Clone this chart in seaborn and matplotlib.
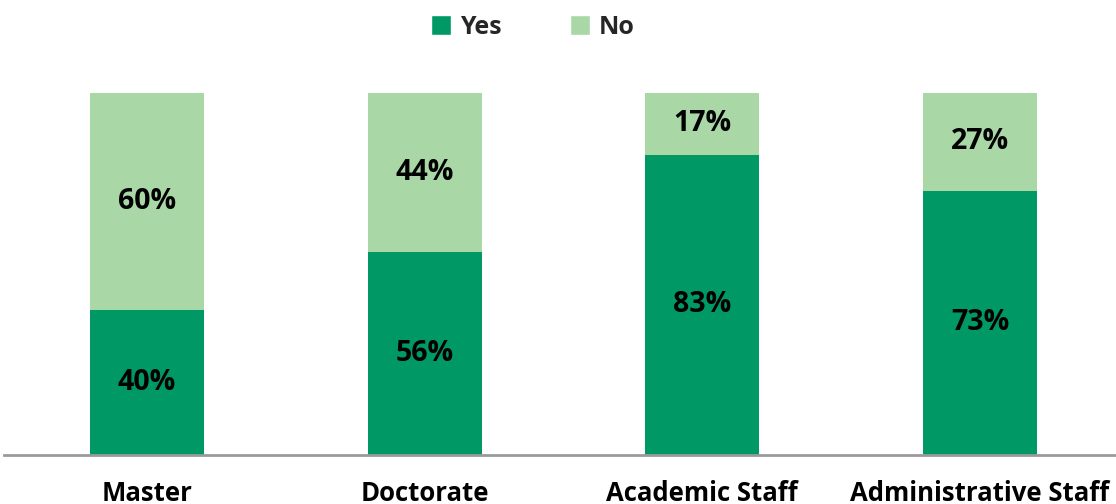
import matplotlib
matplotlib.use("Agg")
import matplotlib.pyplot as plt
from matplotlib.patches import Patch
import seaborn as sns
import pandas as pd

categories = ["Master", "Doctorate", "Academic Staff", "Administrative Staff"]
yes_pct = [40, 56, 83, 73]
no_pct = [60, 44, 17, 27]

YES_COLOR = "#009966"
NO_COLOR = "#A9D8A6"
FONT = ["Open Sans", "DejaVu Sans"]

sns.set_theme(style="white")
plt.rcParams["font.family"] = FONT

df = pd.DataFrame({
    "group": categories,
    "yes": yes_pct,
    "no": no_pct,
})
df["total"] = df["yes"] + df["no"]

fig = plt.figure(figsize=(11.16, 5.04), dpi=100)
ax = fig.add_axes([0.0036, 0.0972, 0.9964, 0.718])

# Full-height light bars first, then the "Yes" share drawn over them
sns.barplot(data=df, x="group", y="total", color=NO_COLOR, width=0.41,
            saturation=1, linewidth=0, ax=ax)
sns.barplot(data=df, x="group", y="yes", color=YES_COLOR, width=0.41,
            saturation=1, linewidth=0, ax=ax)

for i, (y, n) in enumerate(zip(yes_pct, no_pct)):
    ax.text(i, y / 2, f"{y}%", ha="center", va="center",
            fontsize=20.5, fontweight="bold", color="black")
    ax.text(i, y + n / 2, f"{n}%", ha="center", va="center",
            fontsize=20.5, fontweight="bold", color="black")

ax.set_xlim(-0.515, 3.49)
ax.set_ylim(0, 100)
ax.set_xlabel("")
ax.set_ylabel("")
ax.set_yticks([])
ax.tick_params(axis="x", length=0, pad=18)
for lbl in ax.get_xticklabels():
    lbl.set_fontsize(18.5)
    lbl.set_fontweight("bold")
    lbl.set_color("black")

for side in ["top", "right", "left"]:
    ax.spines[side].set_visible(False)
ax.spines["bottom"].set_color("#9A9A9A")
ax.spines["bottom"].set_linewidth(2)

handles = [Patch(facecolor=YES_COLOR, label="Yes"),
           Patch(facecolor=NO_COLOR, label="No")]
fig.legend(handles=handles, loc="center", bbox_to_anchor=(0.4775, 0.946),
           ncol=2, frameon=False, handlelength=0.8, handleheight=0.8,
           handletextpad=0.35, columnspacing=2.75,
           prop={"family": FONT, "weight": "bold", "size": 18})

fig.savefig("out.png", dpi=100)
